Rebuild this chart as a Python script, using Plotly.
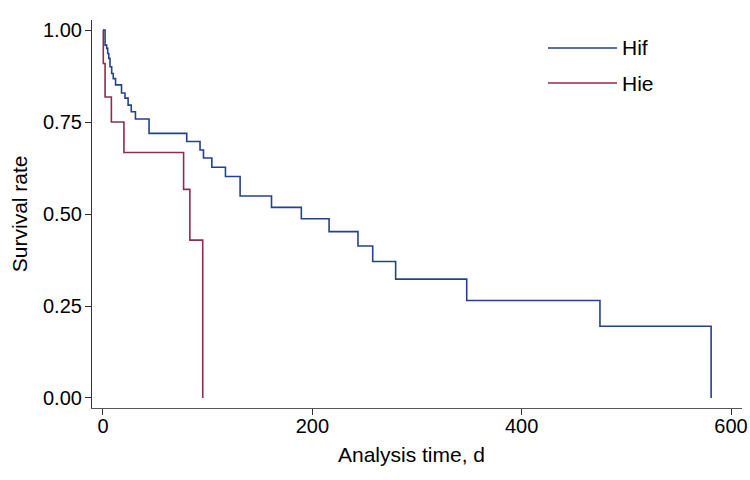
import plotly.graph_objects as go

# Kaplan-Meier step values
HIF_DAYS = [0, 2, 3.5, 4.5, 5.5, 6.7, 8.3, 9.8, 12, 17.7, 21, 24, 27, 31, 44,
            80, 92.7, 96, 104, 117, 131, 161, 189.5, 216, 243.6, 257.7, 279.6,
            347.5, 474.8, 581]
HIF_SURV = [1.0, 0.959, 0.950, 0.936, 0.923, 0.900, 0.882, 0.868, 0.851, 0.829,
            0.815, 0.796, 0.778, 0.758, 0.719, 0.697, 0.674, 0.652, 0.627, 0.602,
            0.549, 0.518, 0.487, 0.452, 0.413, 0.371, 0.323, 0.265, 0.195, 0.0]

HIE_DAYS = [0, 0.3, 2, 8, 20, 77, 83, 95.3]
HIE_SURV = [1.0, 0.909, 0.818, 0.75, 0.667, 0.567, 0.429, 0.0]

SERIES = ["Hif", "Hie"]
COLORS = ["#24418d", "#922c4b"]

Y_TICKS = [0, 0.25, 0.5, 0.75, 1.0]
X_TICKS = [0, 200, 400, 600]

FONT = "Liberation Sans, Arial, Helvetica, sans-serif"

fig = go.Figure()
for name, x, y, color in zip(SERIES, [HIF_DAYS, HIE_DAYS], [HIF_SURV, HIE_SURV], COLORS):
    fig.add_trace(go.Scatter(
        x=x, y=y, name=name, mode="lines", line_shape="hv",
        line=dict(color=color, width=1.6),
    ))

# custom legend with long line samples like the original
legend_y = [0.928, 0.8376]
for name, color, ly in zip(SERIES, COLORS, legend_y):
    fig.add_shape(type="line", xref="paper", yref="paper",
                  x0=0.7015, x1=0.8077, y0=ly, y1=ly,
                  line=dict(color=color, width=1.6))
    fig.add_annotation(text=name, xref="paper", yref="paper", x=0.812, y=ly,
                       xanchor="left", yanchor="middle", showarrow=False,
                       font=dict(size=21, color="black", family=FONT))

# axis titles as annotations for exact placement
fig.add_annotation(text="Analysis time, d", xref="paper", yref="paper",
                   x=0.492, y=-0.121, xanchor="center", yanchor="middle",
                   showarrow=False, font=dict(size=21, color="black"))
fig.add_annotation(text="Survival rate", xref="paper", yref="paper",
                   x=-0.112, y=0.5, xanchor="center", yanchor="middle",
                   textangle=-90, showarrow=False,
                   font=dict(size=21, color="black"))

fig.update_xaxes(
    range=[-10.5, 610.5], tickvals=X_TICKS, ticks="outside", ticklen=6,
    tickcolor="#333", showline=True, linecolor="#555", linewidth=1.2,
    showgrid=False, zeroline=False, automargin=False,
    tickfont=dict(size=20), ticklabelstandoff=-6,
)
fig.update_yaxes(
    range=[-0.0272, 1.0272], tickvals=Y_TICKS, tickformat=".2f",
    ticks="outside", ticklen=6, tickcolor="#333",
    showline=True, linecolor="#333", linewidth=1.2,
    showgrid=False, zeroline=False, automargin=False,
    tickfont=dict(size=20), ticklabelstandoff=-1,
)

fig.update_layout(
    width=750, height=480,
    margin=dict(l=92, r=8, t=20, b=72),
    plot_bgcolor="white", paper_bgcolor="white",
    font=dict(family=FONT, color="black"),
    showlegend=False,
)

# drop the default 8px body margin so the figure fills the window
fig.write_html("out.html", config={"displayModeBar": False},
               post_script="document.body.style.margin='0';")
